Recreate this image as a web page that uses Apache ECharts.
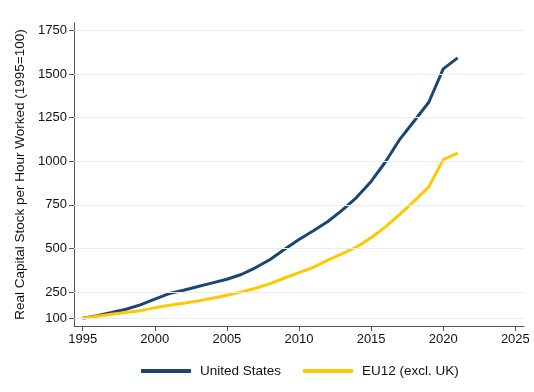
<!DOCTYPE html>
<html><head><meta charset="utf-8">
<script src="https://cdn.jsdelivr.net/npm/echarts@6/dist/echarts.min.js"></script>
<style>html,body{margin:0;padding:0;background:#fff}#c{width:534px;height:392px}</style>
</head><body><div id="c"></div>
<script>
const years = [1995,1996,1997,1998,1999,2000,2001,2002,2003,2004,2005,2006,2007,2008,2009,2010,2011,2012,2013,2014,2015,2016,2017,2018,2019,2020,2021];
const usValues = [100,115,133,152,177,210,242,261,282,303,324,351,391,437,496,552,602,655,720,793,884,997,1127,1232,1338,1529,1592];
const euValues = [100,112,123,133,144,160,175,186,200,215,232,251,272,299,331,362,392,434,471,509,562,624,697,773,853,1009,1047];
const yTicks = [100,250,500,750,1000,1250,1500,1750];
const xTicks = [1995,2000,2005,2010,2015,2020,2025];
const seriesNames = ['United States','EU12 (excl. UK)'];

const font = 'Liberation Sans, Arial, Helvetica, sans-serif';
const chart = echarts.init(document.getElementById('c'));
chart.setOption({
  animation:false,
  grid:{left:74,right:10,top:23,bottom:66},
  legend:{
    top:359, left:136, itemWidth:50, itemHeight:4, itemGap:22,
    icon:'rect',
    textStyle:{fontFamily:font,fontSize:13.5,color:'#111',padding:[0,0,0,4]},
    data:seriesNames
  },
  xAxis:{
    type:'value', min:1994.4, max:2025.6,
    axisLine:{show:true,lineStyle:{color:'#555',width:1}},
    axisTick:{show:true,length:5,customValues:xTicks,lineStyle:{color:'#555'}},
    axisLabel:{customValues:xTicks,formatter:v=>String(v),fontFamily:font,fontSize:13,color:'#111',margin:7},
    splitLine:{show:false}
  },
  yAxis:{
    type:'value', min:56, max:1792,
    name:'Real Capital Stock per Hour Worked (1995=100)',
    nameLocation:'middle', nameGap:42, nameRotate:90,
    nameTextStyle:{fontFamily:font,fontSize:13.5,color:'#111'},
    axisLine:{show:true,lineStyle:{color:'#555',width:1}},
    axisTick:{show:true,length:5,customValues:yTicks,lineStyle:{color:'#555'}},
    axisLabel:{customValues:yTicks,formatter:v=>String(v),fontFamily:font,fontSize:13,color:'#111',margin:7},
    splitLine:{show:false}
  },
  series:[
    {name:seriesNames[0],type:'line',data:years.map((y,i)=>[y,usValues[i]]),
     symbol:'none',lineStyle:{color:'#1c4670',width:3},itemStyle:{color:'#1c4670'},z:3,
     markLine:{silent:true,symbol:'none',label:{show:false},
       lineStyle:{color:'#e6eef0',width:1,type:'solid'},
       data:yTicks.map(v=>({yAxis:v}))}},
    {name:seriesNames[1],type:'line',data:years.map((y,i)=>[y,euValues[i]]),
     symbol:'none',lineStyle:{color:'#ffc800',width:3},itemStyle:{color:'#ffc800'},z:3}
  ]
});
</script></body></html>
